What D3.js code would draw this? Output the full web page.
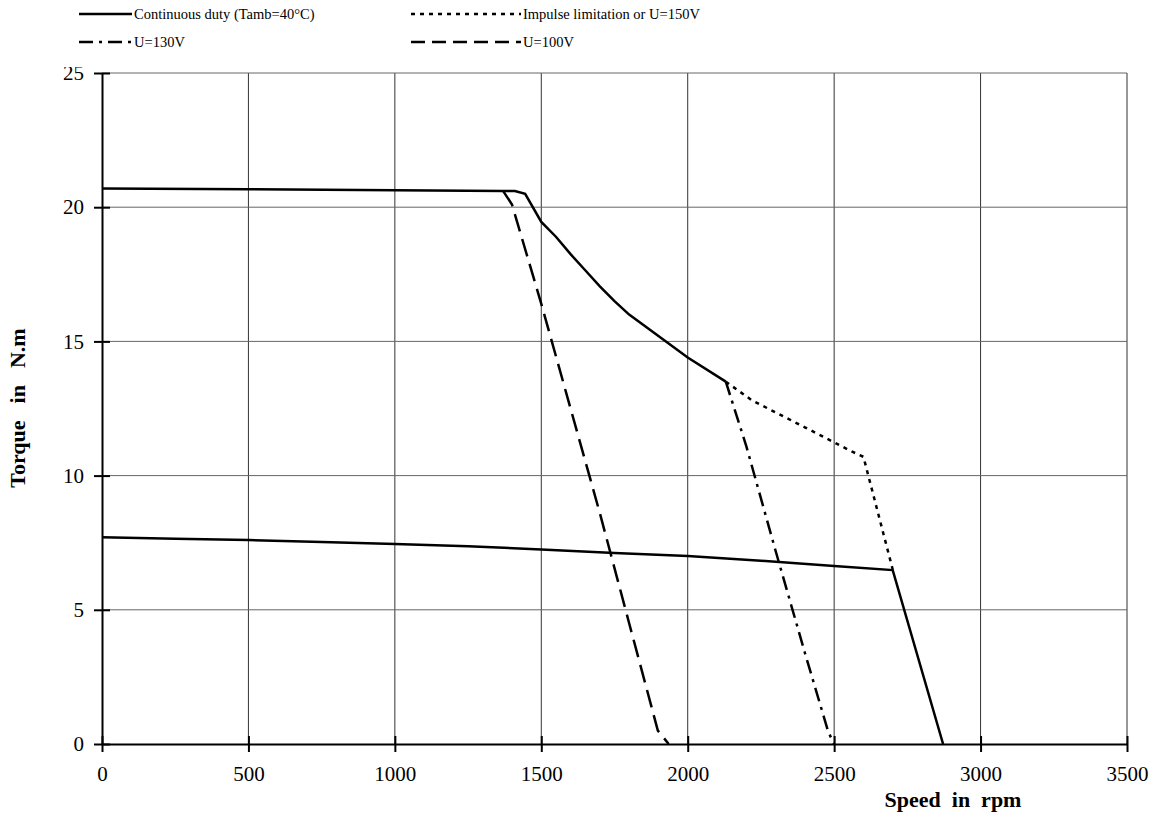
<!DOCTYPE html>
<html>
<head>
<meta charset="utf-8">
<script src="https://cdn.jsdelivr.net/npm/d3@7"></script>
<style>
  body { margin: 0; background: #fff; }
  text { font-family: "Liberation Serif", "Times New Roman", serif; }
</style>
</head>
<body>
<svg width="1161" height="840"></svg>
<script>
// speed (rpm) / torque (N.m)
const peakSpeed  = [0, 500, 1000, 1370, 1410, 1445, 1500, 1550, 1600, 1650, 1700, 1750, 1800, 1850, 1900, 2000, 2130];
const peakTorque = [20.7, 20.67, 20.63, 20.6, 20.6, 20.5, 19.45, 18.9, 18.25, 17.65, 17.05, 16.5, 16.0, 15.6, 15.2, 14.4, 13.5];

const contSpeed  = [0, 250, 500, 750, 1000, 1250, 1500, 1750, 2000, 2250, 2500, 2700, 2872];
const contTorque = [7.7, 7.65, 7.6, 7.53, 7.45, 7.37, 7.25, 7.12, 7.0, 6.83, 6.63, 6.48, 0];

const u150Speed  = [2130, 2220, 2400, 2560, 2600, 2700];
const u150Torque = [13.5, 12.8, 11.8, 10.9, 10.7, 6.5];

const u130Speed  = [2130, 2200, 2300, 2400, 2480, 2500];
const u130Torque = [13.5, 11.1, 7.2, 3.4, 0.45, 0];

const u100Speed  = [1370, 1400, 1500, 1600, 1700, 1800, 1898, 1935];
const u100Torque = [20.6, 20.1, 16.4, 12.5, 8.6, 4.5, 0.5, 0];

const xTicks = [0, 500, 1000, 1500, 2000, 2500, 3000, 3500];
const yTicks = [0, 5, 10, 15, 20, 25];

const legendNames = ["Continuous duty (Tamb=40°C)", "Impulse limitation or U=150V", "U=130V", "U=100V"];

const svg = d3.select('svg');
const margin = { top: 73, right: 34, bottom: 96, left: 102 };
const innerWidth = 1161 - margin.left - margin.right;
const innerHeight = 840 - margin.top - margin.bottom;

const xScale = d3.scaleLinear().domain([0, 3500]).range([0, innerWidth]);
const yScale = d3.scaleLinear().domain([0, 25]).range([innerHeight, 0]);

const g = svg.append('g')
    .attr('transform', `translate(${margin.left}, ${margin.top})`);

// gridlines
g.append('g')
    .selectAll('line')
    .data(xTicks.slice(1))
    .join('line')
    .attr('x1', d => xScale(d)).attr('x2', d => xScale(d))
    .attr('y1', 0).attr('y2', innerHeight)
    .attr('stroke', '#333').attr('stroke-width', 1);
g.append('g')
    .selectAll('line')
    .data(yTicks.slice(1))
    .join('line')
    .attr('x1', 0).attr('x2', innerWidth)
    .attr('y1', d => yScale(d)).attr('y2', d => yScale(d))
    .attr('stroke', '#666').attr('stroke-width', 1);

// curves
const line = d3.line().x(d => xScale(d[0])).y(d => yScale(d[1]));
const curves = [
    { s: peakSpeed, t: peakTorque, dash: null },
    { s: contSpeed, t: contTorque, dash: null },
    { s: u150Speed, t: u150Torque, dash: '4,5' },
    { s: u130Speed, t: u130Torque, dash: '14,6,3,6' },
    { s: u100Speed, t: u100Torque, dash: '18,8' }
];
g.append('g')
    .selectAll('path')
    .data(curves)
    .join('path')
    .attr('d', d => line(d.s.map((v, i) => [v, d.t[i]])))
    .attr('fill', 'none')
    .attr('stroke', '#000')
    .attr('stroke-width', 2.5)
    .attr('stroke-dasharray', d => d.dash);

// axes
const xAxis = g.append('g')
    .attr('transform', `translate(0, ${innerHeight})`)
    .call(d3.axisBottom(xScale).tickValues(xTicks).tickFormat(d3.format('d'))
        .tickSize(8).tickSizeOuter(0).tickPadding(14));
xAxis.selectAll('.tick line').clone().attr('y2', -8);
const yAxis = g.append('g')
    .call(d3.axisLeft(yScale).tickValues(yTicks).tickSize(8).tickSizeOuter(0).tickPadding(10));
yAxis.selectAll('.tick line').clone().attr('x2', 8);

svg.selectAll('.domain').attr('stroke', '#000').attr('stroke-width', 2);
svg.selectAll('.tick line').attr('stroke', '#000').attr('stroke-width', 2);
svg.selectAll('.tick text')
    .attr('font-family', '"Liberation Serif", serif')
    .attr('font-size', 21)
    .attr('fill', '#000');

// legend (white box hides top of "25")
svg.append('rect').attr('x', 40).attr('y', 0).attr('width', 700).attr('height', 67).attr('fill', '#fff');
const legendDash = [null, '4,5', '14,6,3,6', '14,7'];
const legend = svg.selectAll('.legend')
    .data(legendNames)
    .join('g')
    .attr('class', 'legend')
    .attr('transform', (d, i) => `translate(${i % 2 === 0 ? 79 : 411}, ${i < 2 ? 14 : 42})`);
legend.append('line')
    .attr('x1', 0).attr('x2', (d, i) => i % 2 === 0 ? 53 : 110)
    .attr('stroke', '#000').attr('stroke-width', 2.5)
    .attr('stroke-dasharray', (d, i) => legendDash[i]);
legend.append('text')
    .attr('x', (d, i) => i % 2 === 0 ? 55 : 112)
    .attr('dy', '0.33em')
    .attr('font-size', 14.5)
    .text(d => d);

// axis titles
svg.append('text')
    .attr('x', 953).attr('y', 807)
    .attr('text-anchor', 'middle')
    .attr('font-weight', 'bold')
    .attr('font-size', 22)
    .style('white-space', 'pre')
    .text('Speed  in  rpm');
svg.append('text')
    .attr('transform', 'translate(25, 408) rotate(-90)')
    .attr('text-anchor', 'middle')
    .attr('font-weight', 'bold')
    .attr('font-size', 22)
    .attr('word-spacing', 3)
    .style('white-space', 'pre')
    .text('Torque  in  N.m');
</script>
</body>
</html>
